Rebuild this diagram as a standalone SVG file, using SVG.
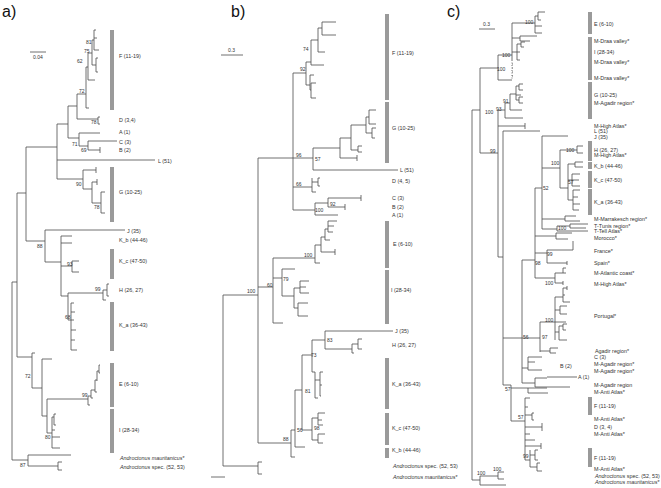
<svg xmlns="http://www.w3.org/2000/svg" width="661" height="488" viewBox="0 0 661 488">
<style>
.t{font-family:"Liberation Sans",Arial,sans-serif;font-size:5.4px;fill:#333}
.s{font-family:"Liberation Sans",Arial,sans-serif;font-size:5px;fill:#333}
.i{font-style:italic}
.p{font-family:"Liberation Sans",Arial,sans-serif;font-size:16px;fill:#111}
.bar{fill:#9a9a9a}
.br{fill:none;stroke:#4d4d4d;stroke-width:0.8}
.dot{fill:none;stroke:#4d4d4d;stroke-width:0.8;stroke-dasharray:1 1.5}
.ga{fill:none;stroke:#999;stroke-width:1.4}
</style>
<rect width="661" height="488" fill="#fff"/>

<g id="panel-labels">
<text class="p" x="2" y="17">a)</text>
<text class="p" x="231" y="17">b)</text>
<text class="p" x="447" y="17">c)</text>
</g>

<g id="scale-bars">
<path class="br" d="M30,52H46 M221,55H243 M479,29H495"/>
<text class="s" x="33" y="59">0.04</text>
<text class="s" x="228" y="52">0.3</text>
<text class="s" x="483" y="26">0.3</text>
</g>

<g id="connectors">
<path id="tree-a" class="br" d="M12,282V460 M12,282H17 M17,193V357 M12,460H28 M28,455V466 M28,455H71 M28,466H58 M58,462V470 M58,462H62 M58,470H62
M17,193H26 M26,147V241 M26,147H57 M57,124V179 M57,124H68 M57,160H155 M57,179H83
M68,106V138 M68,106H77 M77,94V119 M77,119H98 M98,117V124 M98,117H100 M98,124H100 M77,94H86
M86,67V108 M86,108H89 M86,67H88 M88,53V80 M88,80H95 M88,53H92 M92,40V65 M92,65H96 M96,58V72 M96,58H98 M96,72H98 M92,40H94 M94,30V50 M94,30H96 M94,38H97 M94,50H99
M68,138H79 M79,133V146 M79,133H100 M79,146H88 M88,141V150 M88,141H117 M88,150H100 M100,147V153
M83,170V189 M83,170H96 M96,167V173 M83,189H92 M92,182V203 M92,182H97 M97,179V185 M92,203H101 M101,192V213 M101,192H105 M101,213H105
M26,241H45 M45,230V262 M45,230H125 M45,262H61 M61,236V296 M61,236H72 M61,243H72 M61,266H72 M72,261V272 M72,261H79 M72,272H79
M61,296H68 M68,293V320 M68,293H103 M103,290V300 M103,300H106 M103,290H107 M107,284V296 M107,284H109 M107,296H109
M68,320H71 M71,303V350 M71,303H74 M71,312H75 M71,320H74 M71,330H76 M71,340H75 M71,350H77
M17,357H32 M32,353V388 M32,353H35 M32,388H42 M42,359V416 M42,359H52 M42,416H47 M47,399V433 M47,399H88
M88,396V405 M88,405H90 M88,396H91 M91,390V398 M91,398H93 M91,390H95 M95,380V392 M95,392H97 M95,380H97 M97,371V381 M97,371H99 M99,365V373 M99,365H100 M99,373H100
M47,433H52 M52,417V448 M52,417H54 M54,414V425 M54,414H56 M54,425H56 M52,430H55 M52,437H60 M52,448H60"/>
<path id="tree-b" class="br" d="M223,295V466 M223,295H258 M223,466H258 M258,462V474 M258,462H262 M258,474H262 M211,477H225
M258,158V443 M258,158H293 M293,73V210
M293,73H306 M306,62V85 M306,62H311 M311,40V65 M311,40H318 M318,28V52 M318,28H322 M322,22V35 M322,22H336 M322,35H336 M318,52H325 M311,65H324 M306,85H310 M310,75V90 M310,75H314 M310,90H311 M311,83V98 M311,83H316 M311,98H316
M293,158H313 M313,148V170 M313,170H398 M313,148H340 M340,138V158 M340,158H357 M357,155V161 M340,138H351 M351,125V150 M351,150H358 M358,146V152 M358,146H362 M358,152H362 M351,125H366 M366,117V133 M366,117H369 M369,110V124 M369,110H376 M369,124H376 M366,133H372 M372,128V138 M372,128H376 M372,138H375
M293,187H312 M312,178V192 M312,182H318 M318,178V186 M318,178H320 M318,186H320 M312,192H316
M293,210H315 M315,203V215 M315,203H328 M328,198V207 M328,198H361 M361,195V201 M328,207H345 M345,204V210 M315,215H338
M258,287H273 M273,258V323 M273,258H315 M273,278H282 M273,323H283
M315,245V263 M315,263H320 M315,245H321 M321,237V252 M321,252H335 M335,249V255 M321,237H325 M325,229V240 M325,240H330 M325,229H328 M328,221V232 M328,221H337 M328,226H334 M328,232H333
M282,269V296 M282,269H295 M282,296H294 M294,288V308 M294,288H300 M300,281V293 M300,281H309 M300,287H306 M300,293H309 M294,308H298 M298,303V316 M298,303H308 M298,316H308
M258,443H291 M291,430V457 M291,457H295 M291,430H295 M295,390V447 M295,447H305 M295,390H302 M302,355V430 M302,355H312 M312,340V372 M312,340H325 M325,331V349 M325,331H393 M325,349H352 M352,344V353 M352,353H354 M352,344H358 M358,339V349 M358,339H362 M358,349H362
M312,372H315 M315,372V398 M315,398H318 M315,380H320 M320,372V396 M320,372H323 M320,385H322 M320,396H321
M302,430H312 M312,418V440 M312,418H318 M318,413V425 M318,413H325 M318,420H322 M318,425H323 M312,440H318 M318,434V443 M318,434H325 M318,443H323"/>
<path id="tree-c" class="br" d="M472,110V480 M472,110H480 M480,68V153 M472,480H480 M480,476V485 M480,476H498 M498,472V479 M498,472H504 M498,479H504 M480,485H506
M480,68H498 M498,55V80 M498,55H512 M498,80H512 M512,23V60
M512,23H535 M535,16V33 M535,16H538 M538,12V20 M538,12H545 M538,20H541 M535,26H542 M535,33H542
M512,38H520 M520,36V41 M520,36H537 M520,41H530 M512,52H517 M517,44V60 M517,44H521 M521,42V47 M521,42H525 M521,47H524 M517,52H520 M517,60H520
M480,153H498 M498,110V257 M498,110H505 M505,103V118 M505,118H523 M505,103H510 M510,94V110 M510,110H522 M510,94H516 M516,86V100 M516,86H519 M519,84V90 M519,84H523 M519,90H523 M516,95H521 M516,100H519 M519,97V103 M519,97H523 M519,103H523
M498,126H525 M525,123V129
M498,257H503 M503,131V385 M503,131H540
M503,338H540 M522,260V383 M522,260H535 M535,188V278 M535,188H542 M542,136V229 M542,136H568
M542,168H560 M560,150V188 M560,150H577 M577,146V153 M577,146H583 M577,153H583 M560,188H568 M568,164V200 M568,164H575 M575,162V167 M575,162H583 M575,167H583 M568,180H572 M572,174V186 M572,174H580 M572,180H579 M572,186H580 M568,200H573 M573,190V210 M573,190H580 M573,197H578 M573,204H580 M573,210H579
M542,219H565 M565,216V221 M565,216H576 M565,221H580
M542,229H557 M557,226V231 M557,226H570 M570,224V228 M570,224H588 M570,228H586 M557,231H588
M535,236H556 M556,233V239 M556,233H572 M556,239H568
M535,253H547 M547,250V263 M547,250H573 M573,241V250 M547,263H567 M567,261V265
M535,278H555 M555,273V283 M555,273H563 M563,268V273 M563,268H566 M563,273H566 M555,283H563 M563,281V285
M540,322V352 M540,322H555 M540,351H550 M550,348V353 M550,348H558 M550,353H556
M555,297V340 M555,297H563 M563,288V302 M563,288H567 M567,286V290 M563,295H565 M563,302H570 M555,310H560 M560,306V314 M560,306H567 M560,314H567 M555,322H566 M555,332H559 M559,326V340 M559,326H563 M563,324V330 M563,324H567 M563,330H566 M559,340H567
M522,368H528 M528,357V370 M528,357H542 M528,362H535 M528,370H542 M522,383H535 M535,378V387 M535,378H547 M535,387H570
M503,385H511 M511,385V421 M511,388H528 M528,388V393 M528,388H547 M528,393H548
M511,421H525 M525,398V460 M525,398H530 M525,407H528 M525,415H532 M532,413V420 M532,413H534 M532,420H534 M525,427H542 M542,423V431 M525,434H530 M525,440H535 M525,446H541 M541,443V449 M525,460H530 M530,450V467 M530,455H535 M535,450V460 M535,450H538 M535,460H538 M530,467H537 M537,463V471 M537,463H540 M537,471H542"/>
<path class="dot" d="M512,60V80 M512,64H514 M512,68H514 M512,72H514 M512,76H514"/>
<path class="ga" d="M547,377H577"/>
</g>

<g id="support-a">
<text class="s" x="86" y="44">81</text>
<text class="s" x="84" y="53">75</text>
<text class="s" x="77" y="63">62</text>
<text class="s" x="79" y="93">72</text>
<text class="s" x="91" y="124">78</text>
<text class="s" x="72" y="146">71</text>
<text class="s" x="81" y="152">69</text>
<text class="s" x="76" y="186">90</text>
<text class="s" x="94" y="209">78</text>
<text class="s" x="37" y="248">88</text>
<text class="s" x="67" y="266">93</text>
<text class="s" x="95" y="291">99</text>
<text class="s" x="65" y="319">68</text>
<text class="s" x="25" y="378">72</text>
<text class="s" x="82" y="397">99</text>
<text class="s" x="45" y="439">80</text>
<text class="s" x="20" y="467">87</text>
</g>
<g id="support-b">
<text class="s" x="303" y="51">74</text>
<text class="s" x="300" y="71">92</text>
<text class="s" x="296" y="157">96</text>
<text class="s" x="315" y="161">57</text>
<text class="s" x="296" y="186">66</text>
<text class="s" x="330" y="206">92</text>
<text class="s" x="315" y="212">100</text>
<text class="s" x="304" y="257">100</text>
<text class="s" x="283" y="281">79</text>
<text class="s" x="267" y="287">60</text>
<text class="s" x="247" y="293">100</text>
<text class="s" x="327" y="342">83</text>
<text class="s" x="311" y="357">73</text>
<text class="s" x="305" y="393">81</text>
<text class="s" x="297" y="432">56</text>
<text class="s" x="314" y="430">98</text>
<text class="s" x="283" y="441">88</text>
</g>
<g id="support-c">
<text class="s" x="525" y="24">100</text>
<text class="s" x="502" y="57">100</text>
<text class="s" x="497" y="71">100</text>
<text class="s" x="503" y="103">91</text>
<text class="s" x="496" y="111">93</text>
<text class="s" x="485" y="114">100</text>
<text class="s" x="490" y="153">99</text>
<text class="s" x="566" y="152">100</text>
<text class="s" x="551" y="165">100</text>
<text class="s" x="568" y="184">57</text>
<text class="s" x="543" y="190">52</text>
<text class="s" x="558" y="230">100</text>
<text class="s" x="547" y="256">99</text>
<text class="s" x="535" y="265">98</text>
<text class="s" x="545" y="285">100</text>
<text class="s" x="545" y="322">100</text>
<text class="s" x="523" y="339">56</text>
<text class="s" x="542" y="339">97</text>
<text class="s" x="505" y="391">57</text>
<text class="s" x="518" y="419">57</text>
<text class="s" x="523" y="458">99</text>
<text class="s" x="477" y="475">100</text>
<text class="s" x="493" y="471">100</text>
</g>

<g id="a-F"><rect class="bar" x="110" y="30" width="4" height="80"/><text class="t" x="119" y="58">F (11-19)</text></g>
<g id="a-D"><text class="t" x="119" y="122">D (3,4)</text></g>
<g id="a-A"><text class="t" x="119" y="134">A (1)</text></g>
<g id="a-C"><text class="t" x="119" y="144">C (3)</text></g>
<g id="a-B"><text class="t" x="119" y="152">B (2)</text></g>
<g id="a-L"><text class="t" x="158" y="163">L (51)</text></g>
<g id="a-G"><rect class="bar" x="110" y="167" width="4" height="55"/><text class="t" x="119" y="194">G (10-25)</text></g>
<g id="a-J"><text class="t" x="127" y="233">J (35)</text></g>
<g id="a-Kb"><text class="t" x="119" y="242">K_b (44-46)</text></g>
<g id="a-Kc"><rect class="bar" x="110" y="249" width="4" height="30"/><text class="t" x="119" y="263">K_c (47-50)</text></g>
<g id="a-H"><text class="t" x="119" y="292">H (26, 27)</text></g>
<g id="a-Ka"><rect class="bar" x="110" y="302" width="4" height="49"/><text class="t" x="119" y="327">K_a (36-43)</text></g>
<g id="a-E"><rect class="bar" x="110" y="363" width="4" height="44"/><text class="t" x="119" y="386">E (6-10)</text></g>
<g id="a-I"><rect class="bar" x="110" y="409" width="4" height="44"/><text class="t" x="119" y="432">I (28-34)</text></g>
<g id="a-maur"><text class="t i" x="120" y="460">Androctonus mauritanicus*</text></g>
<g id="a-spec"><text class="t" x="120" y="469"><tspan class="i">Androctonus</tspan> spec. (52, 53)</text></g>

<g id="b-F"><rect class="bar" x="385" y="14" width="4" height="86"/><text class="t" x="392" y="55">F (11-19)</text></g>
<g id="b-G"><rect class="bar" x="385" y="102" width="4" height="61"/><text class="t" x="392" y="130">G (10-25)</text></g>
<g id="b-L"><text class="t" x="400" y="172">L (51)</text></g>
<g id="b-D"><text class="t" x="392" y="183">D (4, 5)</text></g>
<g id="b-C"><text class="t" x="392" y="200">C (3)</text></g>
<g id="b-B"><text class="t" x="392" y="209">B (2)</text></g>
<g id="b-A"><text class="t" x="392" y="217">A (1)</text></g>
<g id="b-E"><rect class="bar" x="385" y="221" width="4" height="47"/><text class="t" x="393" y="246">E (6-10)</text></g>
<g id="b-I"><rect class="bar" x="385" y="270" width="4" height="54"/><text class="t" x="391" y="292">I (28-34)</text></g>
<g id="b-J"><text class="t" x="395" y="333">J (35)</text></g>
<g id="b-H"><text class="t" x="392" y="347">H (26, 27)</text></g>
<g id="b-Ka"><rect class="bar" x="385" y="358" width="4" height="51"/><text class="t" x="392" y="386">K_a (36-43)</text></g>
<g id="b-Kc"><rect class="bar" x="385" y="413" width="4" height="32"/><text class="t" x="392" y="430">K_c (47-50)</text></g>
<g id="b-Kb"><rect class="bar" x="385" y="448" width="4" height="10"/><text class="t" x="392" y="452">K_b (44-46)</text></g>
<g id="b-spec"><text class="t" x="393" y="468"><tspan class="i">Androctonus</tspan> spec. (52, 53)</text></g>
<g id="b-maur"><text class="t i" x="393" y="479">Androctonus mauritanicus*</text></g>

<g id="c-E"><rect class="bar" x="588" y="12" width="4" height="22"/><text class="t" x="594" y="26">E (6-10)</text></g>
<g id="c-I"><rect class="bar" x="588" y="37" width="4" height="43"/>
<text class="t" x="594" y="43">M-Draa valley*</text><text class="t" x="594" y="54">I (28-34)</text><text class="t" x="594" y="64">M-Draa valley*</text><text class="t" x="594" y="80">M-Draa valley*</text></g>
<g id="c-G"><rect class="bar" x="588" y="82" width="4" height="37"/><text class="t" x="594" y="97">G (10-25)</text><text class="t" x="594" y="105">M-Agadir region*</text></g>
<g id="c-HA1"><text class="t" x="594" y="128">M-High Atlas*</text></g>
<g id="c-L"><text class="t" x="594" y="133">L (51)</text></g>
<g id="c-J"><text class="t" x="594" y="139">J (35)</text></g>
<g id="c-H"><rect class="bar" x="588" y="141" width="4" height="20"/><text class="t" x="594" y="152">H (26, 27)</text><text class="t" x="594" y="157">M-High Atlas*</text></g>
<g id="c-Kb"><rect class="bar" x="588" y="162" width="4" height="7"/><text class="t" x="594" y="168">K_b (44-46)</text></g>
<g id="c-Kc"><rect class="bar" x="588" y="171" width="4" height="17"/><text class="t" x="594" y="182">K_c (47-50)</text></g>
<g id="c-Ka"><rect class="bar" x="588" y="189" width="4" height="26"/><text class="t" x="594" y="204">K_a (36-43)</text></g>
<g id="c-Marr"><text class="t" x="594" y="221">M-Marrakesch region*</text></g>
<g id="c-Tunis"><text class="t" x="594" y="228">T-Tunis region*</text></g>
<g id="c-Tell"><text class="t" x="594" y="233">T-Tell Atlas*</text></g>
<g id="c-Morocco"><text class="t" x="594" y="240">Morocco*</text></g>
<g id="c-France"><text class="t" x="594" y="253">France*</text></g>
<g id="c-Spain"><text class="t" x="594" y="265">Spain*</text></g>
<g id="c-Atl"><text class="t" x="594" y="275">M-Atlantic coast*</text></g>
<g id="c-HA2"><text class="t" x="594" y="286">M-High Atlas*</text></g>
<g id="c-Portugal"><text class="t" x="594" y="318">Portugal*</text></g>
<g id="c-Agadir"><text class="t" x="595" y="353">Agadir region*</text></g>
<g id="c-C"><text class="t" x="594" y="359">C (3)</text></g>
<g id="c-MA1"><text class="t" x="594" y="366">M-Agadir region*</text></g>
<g id="c-B"><text class="t" x="560" y="368">B (2)</text></g>
<g id="c-MA2"><text class="t" x="594" y="373">M-Agadir region*</text></g>
<g id="c-A"><text class="t" x="578" y="379">A (1)</text></g>
<g id="c-MA3"><text class="t" x="594" y="387">M-Agadir region</text></g>
<g id="c-AA1"><text class="t" x="594" y="394">M-Anti Atlas*</text></g>
<g id="c-F1"><rect class="bar" x="588" y="397" width="4" height="18"/><text class="t" x="594" y="408">F (11-19)</text></g>
<g id="c-AA2"><text class="t" x="594" y="421">M-Anti Atlas*</text></g>
<g id="c-D"><text class="t" x="594" y="429">D (3, 4)</text></g>
<g id="c-AA3"><text class="t" x="594" y="436">M-Anti Atlas*</text></g>
<g id="c-F2"><rect class="bar" x="588" y="448" width="4" height="19"/><text class="t" x="594" y="460">F (11-19)</text></g>
<g id="c-AA4"><text class="t" x="594" y="471">M-Anti Atlas*</text></g>
<g id="c-spec"><text class="t" x="595" y="478"><tspan class="i">Androctonus</tspan> spec. (52, 53)</text></g>
<g id="c-maur"><text class="t i" x="595" y="484">Androctonus mauritanicus*</text></g>
</svg>
